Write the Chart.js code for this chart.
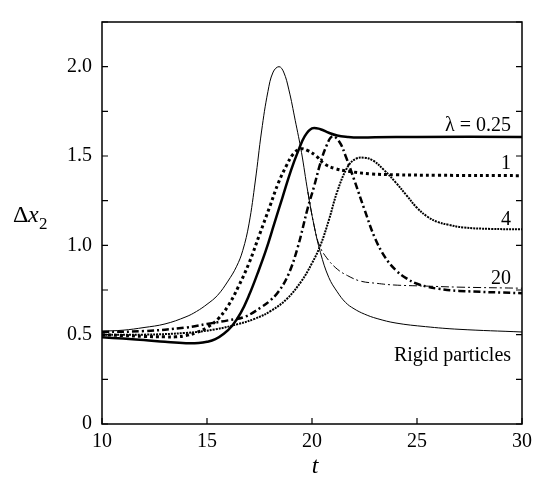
<!DOCTYPE html>
<html>
<head>
<meta charset="utf-8">
<title>Delta x2 vs t</title>
<script src="https://cdn.jsdelivr.net/npm/chart.js@4"></script>
<style>
  body { margin: 0; background: #fff; }
  canvas { display: block; }
</style>
</head>
<body>
<canvas id="myChart" width="538" height="480"></canvas>
<script>
// values
const rigidT = [10, 11, 12, 13, 14, 14.5, 15, 15.5, 16, 16.4, 16.7, 17.0, 17.3, 17.6, 17.9, 18.15, 18.43, 18.65, 18.9, 19.2, 19.5, 19.8, 20.1, 20.4, 20.8, 21.2, 21.6, 22.0, 22.5, 23.1, 24, 25.4, 27, 30];
const rigidY = [0.52, 0.525, 0.54, 0.56, 0.60, 0.63, 0.67, 0.72, 0.80, 0.88, 0.97, 1.12, 1.36, 1.64, 1.86, 1.97, 2.0, 1.97, 1.87, 1.70, 1.52, 1.30, 1.11, 0.96, 0.82, 0.74, 0.68, 0.645, 0.615, 0.59, 0.565, 0.545, 0.53, 0.515];

const branchT = [19.8, 20.1, 20.35, 20.7, 21.2, 21.7, 22.3, 23.1, 23.9, 25.4, 27, 30];
const branchY = [1.30, 1.11, 1.00, 0.93, 0.867, 0.83, 0.80, 0.787, 0.778, 0.772, 0.766, 0.76];

const lam025T = [10, 11, 12, 13, 14, 14.6, 15, 15.4, 15.8, 16.2, 16.6, 17, 17.4, 17.8, 18.2, 18.6, 19.0, 19.35, 19.65, 20.0, 20.4, 20.8, 21.2, 21.7, 22.2, 23, 25, 30];
const lam025Y = [0.485, 0.478, 0.47, 0.46, 0.452, 0.453, 0.46, 0.475, 0.505, 0.55, 0.62, 0.72, 0.84, 0.97, 1.12, 1.27, 1.42, 1.53, 1.61, 1.655, 1.65, 1.63, 1.615, 1.607, 1.603, 1.605, 1.607, 1.607];

const lam1T = [10, 11, 12, 13, 13.5, 14, 14.5, 15, 15.5, 16, 16.5, 17, 17.5, 18, 18.4, 18.8, 19.1, 19.45, 19.8, 20.2, 20.6, 21.1, 21.7, 22.8, 24, 26, 30];
const lam1Y = [0.50, 0.495, 0.49, 0.488, 0.488, 0.495, 0.512, 0.54, 0.585, 0.66, 0.77, 0.90, 1.06, 1.22, 1.35, 1.45, 1.51, 1.54, 1.53, 1.50, 1.455, 1.43, 1.415, 1.40, 1.395, 1.392, 1.39];

const lam4T = [10, 12, 14, 15.4, 16.5, 17.3, 18.07, 18.8, 19.5, 20.0, 20.4, 20.8, 21.2, 21.7, 22.1, 22.5, 22.9, 23.4, 24, 24.5, 25, 25.5, 26, 26.5, 27.2, 28.5, 30];
const lam4Y = [0.50, 0.50, 0.51, 0.53, 0.56, 0.59, 0.635, 0.70, 0.80, 0.90, 1.00, 1.14, 1.30, 1.44, 1.485, 1.49, 1.475, 1.425, 1.35, 1.28, 1.21, 1.16, 1.13, 1.115, 1.10, 1.092, 1.09];

const lam20T = [10, 12, 14, 15, 16, 16.8, 17.6, 18.0, 18.4, 18.85, 19.3, 19.8, 20.1, 20.4, 20.7, 20.97, 21.3, 21.6, 22.0, 22.5, 23.0, 23.5, 24.0, 24.5, 25, 25.5, 26, 27, 30];
const lam20Y = [0.515, 0.52, 0.54, 0.56, 0.58, 0.60, 0.655, 0.69, 0.74, 0.83, 0.98, 1.21, 1.33, 1.46, 1.56, 1.61, 1.58, 1.50, 1.37, 1.20, 1.04, 0.93, 0.86, 0.815, 0.785, 0.768, 0.757, 0.745, 0.732];

const xTicks = [10, 15, 20, 25, 30];
const yTickLabels = ['0', '0.5', '1.0', '1.5', '2.0'];

// curve labels: text, t, y (right aligned)
const curveLabels = [
  ['\u03bb = 0.25', 29.48, 1.64],
  ['1', 29.48, 1.425],
  ['4', 29.48, 1.115],
  ['20', 29.48, 0.786],
  ['Rigid particles', 29.48, 0.354]
];

const serif = '"Liberation Serif", "Times New Roman", serif';

function pts(ts, ys) {
  return ts.map((t, i) => ({x: t, y: ys[i]}));
}

function series(ts, ys, width, dash) {
  return {
    data: pts(ts, ys),
    borderColor: '#000',
    borderWidth: width,
    borderDash: dash,
    borderCapStyle: 'butt',
    pointRadius: 0,
    fill: false,
    tension: 0.4
  };
}

const framePlugin = {
  id: 'frame',
  afterDraw(chart) {
    const ctx = chart.ctx;
    const a = chart.chartArea;
    const xs = chart.scales.x, ys = chart.scales.y;
    ctx.save();
    ctx.strokeStyle = '#000';
    ctx.lineWidth = 1.5;
    ctx.strokeRect(a.left, a.top, a.right - a.left, a.bottom - a.top);

    // inward tick marks
    ctx.lineWidth = 1.2;
    ctx.beginPath();
    ys.ticks.forEach(tk => {
      const py = ys.getPixelForValue(tk.value);
      ctx.moveTo(a.left, py); ctx.lineTo(a.left + 6, py);
      ctx.moveTo(a.right, py); ctx.lineTo(a.right - 6, py);
    });
    xs.ticks.forEach(tk => {
      const px = xs.getPixelForValue(tk.value);
      ctx.moveTo(px, a.bottom); ctx.lineTo(px, a.bottom - 6);
    });
    ctx.stroke();

    // curve labels
    ctx.fillStyle = '#000';
    ctx.font = '20px ' + serif;
    ctx.textAlign = 'right';
    ctx.textBaseline = 'alphabetic';
    curveLabels.forEach(l => {
      ctx.fillText(l[0], xs.getPixelForValue(l[1]), ys.getPixelForValue(l[2]));
    });

    // axis titles
    ctx.textAlign = 'left';
    ctx.font = '24px ' + serif;
    ctx.fillText('\u0394', 13, 222);
    ctx.font = 'italic 24px ' + serif;
    ctx.fillText('x', 28, 222);
    ctx.font = '17px ' + serif;
    ctx.fillText('2', 39, 229);
    ctx.font = 'italic 24px ' + serif;
    ctx.textAlign = 'center';
    ctx.fillText('t', 315, 473);
    ctx.restore();
  }
};

const ctx = document.getElementById('myChart').getContext('2d');
new Chart(ctx, {
  type: 'line',
  data: {
    datasets: [
      series(rigidT, rigidY, 1, []),
      series(branchT, branchY, 1, [8, 3, 2, 3]),
      series(lam025T, lam025Y, 2.5, []),
      series(lam1T, lam1Y, 3, [3, 3]),
      series(lam4T, lam4Y, 2, [2, 1]),
      series(lam20T, lam20Y, 2.5, [7, 3, 2, 3])
    ]
  },
  options: {
    responsive: false,
    animation: false,
    layout: { padding: { top: 7, right: 11, left: 0, bottom: 0 } },
    plugins: { legend: { display: false }, tooltip: { enabled: false } },
    scales: {
      x: {
        type: 'linear',
        min: 10, max: 30,
        afterBuildTicks: s => { s.ticks = xTicks.map(v => ({value: v})); },
        ticks: { color: '#000', font: { family: serif, size: 20 }, padding: 6, maxRotation: 0 },
        grid: { drawOnChartArea: false, drawTicks: false },
        border: { display: false },
        afterFit: s => { s.height = 56; }
      },
      y: {
        min: 0, max: 2.25,
        ticks: {
          stepSize: 0.25,
          color: '#000',
          font: { family: serif, size: 20 },
          padding: 10,
          callback: v => {
            const i = Math.round(v / 0.5);
            return Math.abs(v - i * 0.5) < 1e-6 && i < yTickLabels.length ? yTickLabels[i] : '';
          }
        },
        grid: { drawOnChartArea: false, drawTicks: false },
        border: { display: false },
        afterFit: s => { s.width = 102; }
      }
    }
  },
  plugins: [framePlugin]
});
</script>
</body>
</html>
